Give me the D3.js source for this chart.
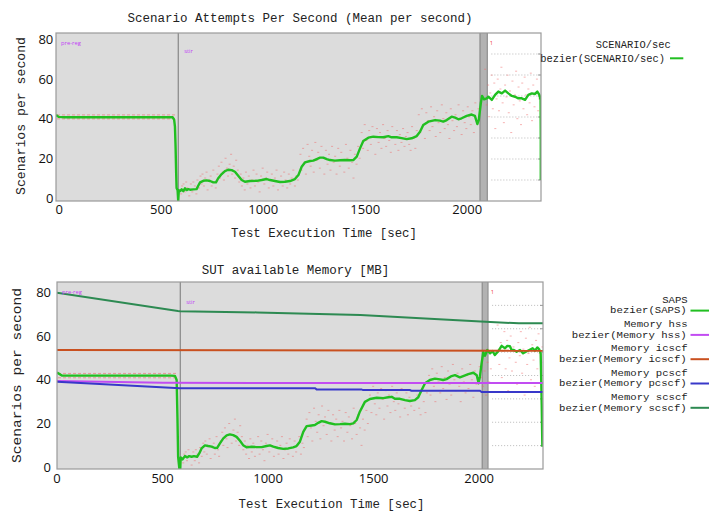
<!DOCTYPE html>
<html><head><meta charset="utf-8">
<script src="https://cdn.jsdelivr.net/npm/d3@7/dist/d3.min.js"></script>
<style>body{margin:0;background:#fff}svg{display:block}</style>
</head><body><svg id="c" width="709" height="511"></svg>
<script>
// ---------------- DATA ----------------
const xTickValues = [0, 500, 1000, 1500, 2000];
const yTickValues = [0, 20, 40, 60, 80];
const gridSteps = [1, 2, 3, 4, 5, 6, 7];
const topTitle = "Scenario Attempts Per Second (Mean per second)";
const bottomTitle = "SUT available Memory [MB]";
const xTitle = "Test Execution Time [sec]";
const yTitle = "Scenarios per second";
const phaseNames = ["pre-reg", "stir", "1"];
// phase boundaries [stir start, band start, band end] per chart
const topPhases = [586, 2065, 2101];
const bottomPhases = [586, 2017, 2045];
const topLegend = ["SCENARIO/sec", "bezier(SCENARIO/sec)"];
const bottomLegend = [
  ["SAPS", "bezier(SAPS)"],
  ["Memory hss", "bezier(Memory hss)"],
  ["Memory icscf", "bezier(Memory icscf)"],
  ["Memory pcscf", "bezier(Memory pcscf)"],
  ["Memory scscf", "bezier(Memory scscf)"]
];

// bezier(SCENARIO/sec), top chart  [time, value]
const topSaps = [[-13,41.9],[0,40.9],[30,40.7],[300,40.7],[559,40.7],[566,39.5],[570,36],[573,26],[576,12],[578,5],[583,3.8],[586,-1.6],[589,3.9],[595,3.4],[603,4.3],[611,3.4],[619,4.8],[627,3.9],[635,4.4],[644,4.1],[660,4.3],[676,4.4],[684,6.1],[693,7.8],[709,8.6],[725,8.8],[742,8.5],[758,7.8],[771,7.8],[782,9.9],[799,12.0],[815,13.5],[831,14.2],[848,14.0],[864,13.2],[880,11.2],[897,9.0],[913,8.1],[938,8.5],[971,8.6],[995,9.0],[1020,9.5],[1036,9.0],[1060,8.5],[1085,8.0],[1109,8.1],[1134,8.5],[1158,9.5],[1175,11.5],[1191,15.7],[1207,17.9],[1232,18.6],[1248,18.8],[1265,19.6],[1281,20.3],[1297,20.3],[1314,19.6],[1330,19.1],[1354,18.8],[1379,19.0],[1403,19.1],[1428,19.0],[1444,19.1],[1461,20.8],[1477,25.0],[1493,28.7],[1518,30.4],[1542,30.9],[1567,30.7],[1591,30.6],[1616,31.2],[1632,30.6],[1657,30.6],[1681,30.2],[1706,29.7],[1730,30.1],[1755,31.2],[1771,33.4],[1787,36.8],[1812,38.5],[1845,39.3],[1869,39.0],[1885,38.5],[1902,39.3],[1926,41.0],[1943,40.5],[1959,39.7],[1975,40.2],[2000,41.4],[2024,42.1],[2040,41.4],[2052,37.3],[2059,39.3],[2069,47.8],[2075,51.5],[2085,49.8],[2098,50.3],[2106,51.1],[2123,49.5],[2139,52.0],[2155,53.7],[2172,52.8],[2188,54.2],[2204,52.8],[2221,51.5],[2237,51.1],[2253,50.3],[2270,50.3],[2286,49.5],[2302,52.0],[2319,52.8],[2335,52.5],[2346,53.7],[2356,52.0],[2362,49.5],[2363,29.2],[2363,9.0]];

// bezier(SAPS), bottom chart
const bottomSaps = [[2,43.3],[25,41.9],[300,41.9],[540,41.9],[561,41.8],[569,39.9],[573,21.6],[576,4.8],[582,-0.8],[586,-0.8],[588,4.5],[597,3.6],[608,5.1],[619,4.5],[628,5.1],[640,4.8],[651,5.1],[666,4.8],[676,6.3],[687,8.6],[703,10.0],[718,9.7],[735,9.4],[750,8.8],[761,8.9],[774,10.9],[790,13.2],[806,14.6],[821,15.0],[837,14.7],[853,13.9],[869,12.1],[884,10.1],[900,9.1],[924,9.4],[948,9.2],[972,9.2],[995,9.7],[1011,10.0],[1027,9.4],[1050,8.8],[1074,8.4],[1098,8.6],[1121,9.1],[1137,9.7],[1153,11.7],[1169,16.2],[1185,18.8],[1209,19.1],[1224,19.3],[1240,20.3],[1256,21.1],[1272,20.8],[1295,20.1],[1319,19.6],[1343,19.7],[1366,19.9],[1390,19.7],[1406,20.1],[1422,21.6],[1437,25.4],[1461,29.9],[1485,31.2],[1517,31.8],[1548,31.6],[1572,32.0],[1588,32.2],[1603,31.3],[1627,31.3],[1651,30.7],[1674,30.3],[1698,30.7],[1714,32.0],[1730,35.3],[1746,38.4],[1769,39.9],[1793,40.5],[1817,40.2],[1832,39.9],[1848,40.3],[1872,41.7],[1888,42.1],[1911,41.1],[1927,41.7],[1951,42.6],[1975,43.2],[1991,42.1],[2000,38.4],[2006,41.4],[2014,47.5],[2022,52.6],[2030,51.0],[2041,53.6],[2054,52.1],[2066,53.1],[2077,51.3],[2093,53.1],[2109,55.5],[2125,54.4],[2136,55.5],[2148,55.4],[2156,53.6],[2167,53.6],[2180,52.8],[2196,53.6],[2211,52.1],[2224,52.8],[2240,53.6],[2256,54.4],[2267,53.3],[2278,54.8],[2287,53.9],[2294,52.1],[2299,28.4],[2302,9.4]];

// memory series (bottom chart)
const memHss = [[2,39.4],[504,38.6],[2305,38.5]];
const memIcscf = [[2,53.6],[2305,53.3]];
const memPcscf = [[2,39.1],[584,36.1],[1225,36.1],[1232,35.6],[1445,35.6],[1452,35.3],[1674,35.3],[1681,35.0],[2006,35.0],[2014,34.4],[2305,34.4]];
const memScscf = [[2,79.8],[575,71.4],[584,71.3],[950,70.8],[1440,69.6],[2010,66.6],[2190,65.8],[2305,65.8]];

// raw samples during pre-reg appear as two dotted rows
const topPreregRows = [41.9, 39.9];
const bottomPreregRows = [42.9, 40.9];
const preregEnd = 575;

// raw per-second samples (scatter)
const rawPoints = [[600,2],[605,6],[612,7],[618,3],[625,8],[630,5],[640,1],[648,7],[655,3],[660,8],[668,6],[675,2],[680,9],[688,5],[695,11],[700,7],
[705,12],[712,6],[718,10],[725,13],[730,4],[738,9],[745,11],[750,6],[758,14],[765,8],[770,5],[778,12],[785,16],[790,10],[798,18],[805,13],[810,9],[818,20],[825,15],[830,11],[838,17],[845,22],[850,12],[858,16],[865,10],[870,19],[878,14],[885,8],[892,12],[898,6],
[905,10],[912,4],[918,13],[925,7],[932,11],[940,5],[948,9],[955,14],[962,6],[970,12],[978,8],[985,3],[992,11],[1000,15],[1008,7],[1015,10],[1022,13],[1030,5],[1038,9],[1045,12],[1052,6],[1060,10],[1068,14],[1075,4],[1082,8],[1090,11],[1098,6],[1105,13],[1112,9],[1120,5],[1128,12],[1135,7],[1142,10],[1150,14],[1158,6],[1165,11],[1172,9],
[1185,22],[1190,14],[1198,25],[1205,18],[1212,12],[1220,27],[1228,21],[1235,16],[1242,24],[1250,13],[1258,28],[1265,19],[1272,23],[1280,15],[1288,26],[1295,20],[1302,12],[1310,24],[1318,17],[1325,22],[1332,14],[1340,26],[1348,18],[1355,21],[1362,12],[1370,25],[1378,16],[1385,23],[1392,19],[1400,13],[1408,27],[1415,20],[1422,15],[1430,24],[1438,18],[1445,10],[1452,22],[1460,17],[1468,26],[1475,20],
[1485,33],[1492,25],[1500,37],[1508,29],[1515,24],[1522,34],[1530,27],[1538,36],[1545,31],[1552,22],[1560,35],[1568,28],[1575,33],[1582,25],[1590,37],[1598,30],[1605,26],[1612,34],[1620,29],[1628,23],[1635,36],[1642,31],[1650,27],[1658,34],[1665,24],[1672,32],[1680,28],[1688,35],[1695,26],[1702,31],[1710,33],[1718,27],[1725,24],[1732,36],[1740,30],[1748,25],[1755,34],
[1765,42],[1772,33],[1780,45],[1788,37],[1795,30],[1802,43],[1810,39],[1818,34],[1825,46],[1832,36],[1840,41],[1848,31],[1855,44],[1862,38],[1870,33],[1878,47],[1885,40],[1892,35],[1900,43],[1908,37],[1915,30],[1922,45],[1930,39],[1938,34],[1945,42],[1952,36],[1960,47],[1968,40],[1975,32],[1982,44],[1990,38],[1998,35],[2005,46],[2012,41],[2020,37],[2028,44],[2035,33],[2042,48],[2050,39],[2058,45],
[2090,65],[2098,47],[2105,57],[2110,41],[2115,53],[2122,62],[2128,45],[2135,58],[2140,35],[2146,50],[2152,60],[2158,44],[2165,55],[2170,66],[2176,48],[2182,38],[2188,57],[2195,51],[2200,62],[2206,43],[2212,54],[2218,33],[2224,59],[2230,47],[2236,52],[2242,64],[2248,40],[2254,56],[2260,49],[2266,37],[2272,58],[2278,45],[2284,61],[2290,52],[2296,42],[2302,55],[2308,48],[2314,63],[2320,39],[2326,57],[2332,46],[2338,53],[2344,60],[2350,44],[2356,50]];

// ---------------- DRAWING ----------------
const svg = d3.select("#c");
const MONO = "'Liberation Mono', 'DejaVu Sans Mono', monospace";
const SANS = "'Open Sans', 'DejaVu Sans', sans-serif";
const C = {saps:"#21bf21", hss:"#c24cf2", icscf:"#c9501f", pcscf:"#3838c9", scscf:"#2d8a52",
           bg:"#dcdcdc", band:"#b2b2b2", bandEdge:"#8a8a8a", border:"#9a9a9a", dot:"#f06a6a"};

function drawChart(cfg, id) {
  const x = d3.scaleLinear().domain(cfg.xDomain).range([cfg.left, cfg.right]);
  const y = d3.scaleLinear().domain(cfg.yDomain).range([cfg.bottom, cfg.top]);
  const y2 = d3.scaleLinear().domain([0, 8]).range([cfg.bottom, cfg.top]);
  const g = svg.append("g");
  const ph = cfg.phases;

  g.append("clipPath").attr("id", "clip" + id).append("rect")
    .attr("x", cfg.left).attr("y", cfg.top).attr("width", cfg.right - cfg.left).attr("height", cfg.bottom - cfg.top);

  // backgrounds
  g.append("rect").attr("x", cfg.left).attr("y", cfg.top)
    .attr("width", x(ph[1]) - cfg.left).attr("height", cfg.bottom - cfg.top).attr("fill", C.bg);
  g.append("rect").attr("x", x(ph[1])).attr("y", cfg.top)
    .attr("width", x(ph[2]) - x(ph[1])).attr("height", cfg.bottom - cfg.top).attr("fill", C.band);
  g.selectAll(".be").data([ph[1], ph[2]]).join("line")
    .attr("x1", d => x(d)).attr("x2", d => x(d)).attr("y1", cfg.top).attr("y2", cfg.bottom)
    .attr("stroke", C.bandEdge).attr("stroke-width", 1.2);
  g.append("rect").attr("x", x(ph[2]) + 0.6).attr("y", cfg.top)
    .attr("width", cfg.right - x(ph[2]) - 0.6).attr("height", cfg.bottom - cfg.top).attr("fill", "#fff");

  // dotted grid in the last phase (y2 axis)
  g.selectAll(".grid").data(gridSteps).join("line")
    .attr("x1", x(ph[2]) + 4).attr("x2", cfg.right)
    .attr("y1", d => y2(d)).attr("y2", d => y2(d))
    .attr("stroke", "#a8a8a8").attr("stroke-width", 0.8).attr("stroke-dasharray", "1,2");
  g.selectAll(".y2t").data(gridSteps).join("line")
    .attr("x1", cfg.right - 3).attr("x2", cfg.right)
    .attr("y1", d => y2(d)).attr("y2", d => y2(d)).attr("stroke", "#999");

  // stir phase line
  g.append("line").attr("x1", x(ph[0])).attr("x2", x(ph[0])).attr("y1", cfg.top).attr("y2", cfg.bottom)
    .attr("stroke", "#777").attr("stroke-width", 1);

  const data = g.append("g").attr("clip-path", `url(#clip${id})`);
  // raw samples
  data.selectAll(".raw").data(rawPoints).join("rect")
    .attr("x", d => x(d[0]) - 1).attr("y", d => y(d[1]) - 0.5)
    .attr("width", 2).attr("height", 1).attr("fill", C.dot).attr("opacity", 0.5);
  data.selectAll(".prr").data(cfg.preregRows).join("line")
    .attr("x1", cfg.left + 1).attr("x2", x(preregEnd))
    .attr("y1", d => y(d)).attr("y2", d => y(d))
    .attr("stroke", C.dot).attr("stroke-width", 1).attr("stroke-dasharray", "3,2").attr("opacity", 0.6);

  const line = d3.line().x(d => x(d[0])).y(d => y(d[1]));
  data.append("path").datum(cfg.saps).attr("d", line)
    .attr("fill", "none").attr("stroke", C.saps).attr("stroke-width", 2.4).attr("stroke-linejoin", "round");
  (cfg.mem || []).forEach(m => {
    data.append("path").datum(m.data).attr("d", line)
      .attr("fill", "none").attr("stroke", m.color).attr("stroke-width", 2);
  });

  // border
  g.append("rect").attr("x", cfg.left).attr("y", cfg.top)
    .attr("width", cfg.right - cfg.left).attr("height", cfg.bottom - cfg.top)
    .attr("fill", "none").attr("stroke", C.border).attr("stroke-width", 1.2);

  // axes
  const ax = g.append("g").attr("transform", `translate(0,${cfg.bottom})`)
    .call(d3.axisBottom(x).tickValues(xTickValues).tickSize(0).tickPadding(cfg.xPad).tickFormat(d3.format("d")));
  const ay = g.append("g").attr("transform", `translate(${cfg.left},0)`)
    .call(d3.axisLeft(y).tickValues(yTickValues).tickSize(0).tickPadding(cfg.yPad).tickFormat(d3.format("d")));
  [ax, ay].forEach(a => {
    a.select(".domain").remove();
    a.selectAll("text").attr("font-family", SANS).attr("font-size", 13).attr("fill", "#111");
  });

  // titles
  g.append("text").attr("x", cfg.titleX).attr("y", cfg.titleY).attr("text-anchor", "middle")
    .attr("dy", "0.35em").attr("font-family", MONO).attr("font-size", 12.5).attr("fill", "#222").text(cfg.title);
  g.append("text").attr("x", cfg.xTitleX).attr("y", cfg.xTitleY).attr("text-anchor", "middle")
    .attr("dy", "0.35em").attr("font-family", MONO).attr("font-size", 12.4).attr("fill", "#222").text(xTitle);
  g.append("text").attr("transform", `translate(${cfg.yTitleX},${cfg.yTitleY}) rotate(-90)`)
    .attr("text-anchor", "middle").attr("dy", "0.35em").attr("font-family", MONO).attr("font-size", 12.8)
    .attr("textLength", cfg.yTitleLen).attr("lengthAdjust", "spacingAndGlyphs").attr("fill", "#222").text(yTitle);

  // phase labels
  const phX = [cfg.left + 5, x(ph[0]) + 6, x(ph[2]) + 2.5];
  g.selectAll(".phl").data(phaseNames).join("text")
    .attr("x", (d, i) => phX[i]).attr("y", (d, i) => cfg.top + cfg.phaseDy[i])
    .attr("dy", "0.35em").attr("font-family", SANS).attr("font-size", 5.8)
    .attr("fill", (d, i) => i < 2 ? "#c23cf5" : "#f04040").text(d => d);
  return {x, y};
}

// top chart
drawChart({
  xDomain: [-13, 2364], yDomain: [-1.6, 83.3],
  left: 56, right: 541, top: 33, bottom: 201,
  phases: topPhases, preregRows: topPreregRows, saps: topSaps,
  xPad: 3.5, yPad: 2.7,
  title: topTitle, titleX: 300, titleY: 18,
  xTitleX: 324, xTitleY: 232.5, yTitleX: 20.5, yTitleY: 116, yTitleLen: 158,
  phaseDy: [9.7, 17.7, 9.7]
}, 1);

// bottom chart
drawChart({
  xDomain: [2, 2305], yDomain: [-0.8, 84.7],
  left: 57, right: 543, top: 282, bottom: 469,
  phases: bottomPhases, preregRows: bottomPreregRows, saps: bottomSaps,
  mem: [
    {data: memHss, color: C.hss},
    {data: memIcscf, color: C.icscf},
    {data: memPcscf, color: C.pcscf},
    {data: memScscf, color: C.scscf}
  ],
  xPad: 4.5, yPad: 6,
  title: bottomTitle, titleX: 295.5, titleY: 270,
  xTitleX: 331.5, xTitleY: 504, yTitleX: 16.7, yTitleY: 375.5, yTitleLen: 175,
  phaseDy: [9.7, 19.7, 9.7]
}, 2);

// legends
const lg = svg.append("g").attr("font-family", MONO).attr("fill", "#222");
lg.selectAll(".tl").data(topLegend).join("text")
  .attr("x", (d, i) => i === 0 ? 670.7 : 665).attr("y", (d, i) => i === 0 ? 44.7 : 58.3)
  .attr("text-anchor", "end").attr("dy", "0.35em").attr("font-size", 10.4).text(d => d);
lg.append("line").attr("x1", 670).attr("x2", 683.3).attr("y1", 58.3).attr("y2", 58.3)
  .attr("stroke", C.saps).attr("stroke-width", 2);

const legColors = [C.saps, C.hss, C.icscf, C.pcscf, C.scscf];
const charW = 6.38;
const bl = lg.selectAll(".bl").data(bottomLegend).join("g")
  .attr("transform", (d, i) => `translate(0,${299.6 + i * 24.3})`);
bl.append("text").attr("x", 687.7).attr("y", 0).attr("dy", "0.35em").attr("text-anchor", "end")
  .attr("font-size", 9).attr("textLength", d => d[0].length * charW).attr("lengthAdjust", "spacingAndGlyphs")
  .text(d => d[0]);
bl.append("text").attr("x", 686.7).attr("y", 10.6).attr("dy", "0.35em").attr("text-anchor", "end")
  .attr("font-size", 9).attr("textLength", d => d[1].length * charW).attr("lengthAdjust", "spacingAndGlyphs")
  .text(d => d[1]);
bl.append("line").attr("x1", 690.5).attr("x2", 712).attr("y1", 11).attr("y2", 11)
  .attr("stroke", (d, i) => legColors[i]).attr("stroke-width", 2);
</script>
</body></html>
